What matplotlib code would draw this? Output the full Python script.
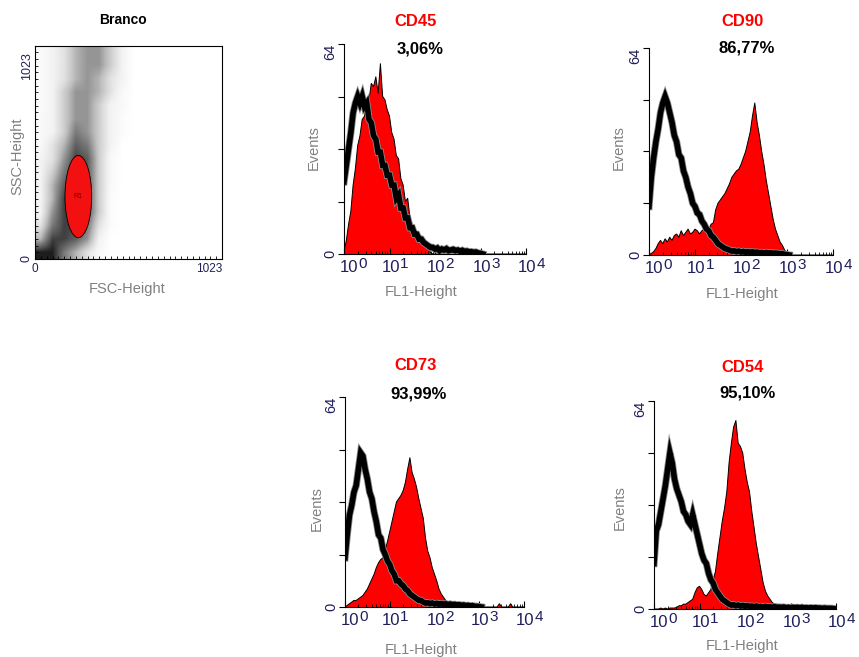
import numpy as np
import matplotlib.pyplot as plt
import matplotlib.patheffects as pe
from matplotlib.patches import Ellipse
from matplotlib.ticker import MultipleLocator, NullFormatter, LogLocator

W, H = 859, 657
plt.rcParams['font.family'] = ['Liberation Sans', 'DejaVu Sans']

TICK_COLOR = '#1f1f5c'
LABEL_GRAY = '#808080'

# FL1 channel positions (log10 of intensity), 10^0 .. 10^4
log_fl1 = np.linspace(0, 4, 81)

# black = isotype control, red = stained sample (events per channel)
cd45_control = [22, 27, 32, 37, 43, 46, 48, 46, 48, 45, 46, 41, 40, 36, 35, 31, 31, 27, 27, 24,
                24, 21, 21, 17, 18, 14, 14, 11, 11, 8, 8, 6, 6, 4.5, 4.5, 3.5, 3, 2.5, 2, 2,
                1.5, 1.8, 1, 1.5, 1.2, 1.6, 1, 1.2, 1.4, 1, 1.2, 0.8, 1.1, 0.7, 0.9, 0.6, 0.7, 0.5, 0.6, 0.3,
                0.2, 0, 0, 0, 0, 0, 0, 0, 0, 0, 0, 0, 0, 0, 0, 0, 0, 0, 0, 0, 0]
cd45_stained = [1, 4, 9, 13, 21, 26, 33, 36, 41, 42, 47, 47, 52, 51, 54, 49, 58, 48, 47, 44,
                42, 37, 35, 30, 29, 23, 21, 16, 17, 11, 9, 7, 6, 5, 4, 4, 3, 2, 0.5, 0,
                0, 0, 0, 0, 0, 0, 0, 0, 0, 0, 0, 0, 0, 0, 0, 0, 0, 0, 0, 0,
                0, 0, 0, 0, 0, 0, 0, 0, 0, 0, 0, 0, 0, 0, 0, 0, 0, 0, 0, 0, 0]

cd90_control = [15, 24, 30, 35, 39, 44, 47, 49, 47, 44, 41, 37, 35, 31, 30, 26, 24, 21, 19, 16,
                15, 13, 12.5, 10.5, 9.5, 8, 7.5, 6, 5.5, 4.5, 3.5, 3, 2.5, 2, 1.8, 1.5, 1.2, 1.3, 1, 1.2,
                0.9, 1.1, 0.8, 1, 0.8, 1, 0.7, 0.9, 0.7, 0.8, 0.6, 0.8, 0.6, 0.7, 0.5, 0.6, 0.5, 0.4, 0.4, 0.2,
                0.1, 0, 0, 0, 0, 0, 0, 0, 0, 0, 0, 0, 0, 0, 0, 0, 0, 0, 0, 0, 0]
cd90_stained = [0, 0.5, 1, 2, 3.5, 4.5, 3.5, 5, 4, 5.5, 4.5, 6, 6.5, 5.5, 7.5, 6, 7, 8, 6.5, 7,
                8, 7.5, 6.5, 7.5, 8, 8.5, 8, 9.5, 10, 14, 16, 17, 18, 19, 20.5, 22, 24, 25, 26, 26.5,
                28, 30, 32, 35, 38, 43, 47, 41, 37, 32, 28, 23, 19, 15, 11, 8, 6, 4, 3, 1.5,
                0.5, 0, 0, 0, 0, 0, 0, 0, 0, 0, 0, 0, 0, 0, 0, 0, 0, 0, 0, 0, 0]

cd73_control = [15, 22, 28, 31, 35, 37, 42, 47, 46, 42, 39, 35, 33, 29, 26, 22, 21, 17.5, 16, 14,
                13, 11, 10, 8, 8, 7, 6.5, 5.5, 5, 4, 3.5, 3, 2.5, 2, 2, 1.5, 1.2, 1.3, 1, 1.2,
                0.9, 1.1, 0.8, 1, 0.8, 1, 0.7, 0.9, 0.7, 0.8, 0.6, 0.7, 0.5, 0.6, 0.4, 0.5, 0.3, 0.4, 0.2, 0.2,
                0.1, 0, 0, 0, 0, 0, 0, 0, 0, 0, 0, 0, 0, 0, 0, 0, 0, 0, 0, 0, 0]
cd73_stained = [0, 0.5, 1, 1.5, 2, 2, 2.5, 3, 3.5, 4.5, 5.5, 7, 8.5, 10, 12, 13.5, 14.5, 15, 17.5, 20,
                23, 26, 29, 32, 33, 34, 35.5, 38, 42, 45.5, 41, 39, 36.5, 33, 30, 27, 21, 17, 15, 12,
                10, 8, 5.5, 4, 3, 2, 1.5, 1, 0.5, 0, 0, 0, 0, 0, 0, 0, 0, 0, 0, 0,
                0, 0, 0, 0, 0, 0, 0, 0, 0, 1, 0, 0, 0, 0, 1, 0, 0, 0, 0, 0, 0]

cd54_control = [14, 24, 26, 30, 34, 38, 43, 48, 45, 40, 37, 35, 33, 30, 29, 27, 26, 29, 26, 23,
                20, 17, 15, 14, 11, 9, 8, 6, 5, 4, 3, 2.5, 2, 1.5, 1.2, 1.3, 1, 1.2, 0.9, 1.1,
                0.8, 1, 0.8, 0.9, 0.7, 0.9, 0.7, 0.8, 0.6, 0.8, 0.6, 0.7, 0.5, 0.7, 0.5, 0.6, 0.5, 0.6, 0.4, 0.5,
                0.4, 0.5, 0.4, 0.5, 0.3, 0.5, 0.3, 0.4, 0.3, 0.4, 0.3, 0.4, 0.3, 0.3, 0.2, 0.3, 0.2, 0.2, 0.2, 0.1, 0]
cd54_stained = [0, 0, 0, 0.3, 0, 0.3, 0, 0.3, 0.3, 0.3, 0.5, 1, 1, 1.5, 1.5, 2, 2.5, 3, 5, 6.5,
                7, 6, 4.5, 4, 5, 6, 9, 11.5, 17, 22, 27, 31, 36, 45, 51, 56, 58, 51, 50, 48,
                43, 39, 36, 30, 25, 20, 16, 12, 8, 5.5, 4, 3, 2, 1.5, 1.5, 1, 0.5, 0.5, 0.5, 0.3,
                0.3, 0, 0, 0, 0, 0, 0, 0, 0, 0, 0, 0, 0, 0, 0, 0, 0, 0, 0, 0, 0]

# FSC/SSC dot plot, approximate dot density per 64x64 cell (rows: SSC low -> high)
fsc_ssc_density = [
    [9, 9, 6, 4, 2, 0.5, 0, 0, 0, 0, 0, 0, 0, 0, 0, 0],
    [4, 8, 8, 7, 5, 1, 0, 0, 0, 0, 0, 0, 0, 0, 0, 0],
    [2, 6, 8, 8, 6, 2, 0.3, 0, 0, 0, 0, 0, 0, 0, 0, 0],
    [1, 5, 8, 8, 7, 3, 0.3, 0, 0, 0, 0, 0, 0, 0, 0, 0],
    [1, 4, 8, 8, 7, 3, 0.3, 0, 0, 0, 0, 0, 0, 0, 0, 0],
    [1, 4, 7, 8, 7, 3, 0.5, 0, 0, 0, 0, 0, 0, 0, 0, 0],
    [1, 3, 6, 8, 7, 3, 0.5, 0, 0, 0, 0, 0, 0, 0, 0, 0],
    [1, 2, 5, 8, 7, 3, 0.5, 0, 0, 0, 0, 0, 0, 0, 0, 0],
    [0.5, 2, 4, 7, 6, 3, 1, 0, 0, 0, 0, 0, 0, 0, 0, 0],
    [0.5, 1, 3, 6, 5, 3, 1, 0.3, 0, 0, 0, 0, 0, 0, 0, 0],
    [0.5, 1, 3, 5, 5, 3, 1, 0.3, 0, 0, 0, 0, 0, 0, 0, 0],
    [0.3, 1, 3, 5, 5, 3, 1, 0.5, 0, 0, 0, 0, 0, 0, 0, 0],
    [0.3, 1, 3, 5, 5, 4, 2, 0.5, 0, 0, 0, 0, 0, 0, 0, 0],
    [0.3, 1, 2, 4, 5, 4, 2, 1, 0, 0, 0, 0, 0, 0, 0, 0],
    [0.3, 1, 2, 4, 5, 5, 3, 1, 0, 0, 0, 0, 0, 0, 0, 0],
    [0.3, 1, 2, 4, 5, 5, 3, 1, 0, 0, 0, 0, 0, 0, 0, 0],
]
gate_center = (237, 300)
gate_size = (146, 395)

fig = plt.figure(figsize=(W / 100, H / 100), dpi=100)


def box(x0, y0, x1, y1):
    return [x0 / W, 1 - y1 / H, (x1 - x0) / W, (y1 - y0) / H]


def ftext(x, y, s, **kw):
    kw.setdefault('ha', 'center')
    kw.setdefault('va', 'center')
    fig.text(x / W, 1 - y / H, s, **kw)


# ---- scatter (Branco)
ax = fig.add_axes(box(35, 46, 222, 259))
ax.imshow(fsc_ssc_density, extent=(0, 1023, 0, 1023), origin='lower', cmap='Greys',
          vmin=0, vmax=10, interpolation='bilinear', aspect='auto')
ax.add_patch(Ellipse(gate_center, gate_size[0], gate_size[1], facecolor='#f21010',
                     edgecolor='black', linewidth=0.6))
ax.text(gate_center[0], gate_center[1], 'R1', fontsize=5, color='#6a0000', ha='center', va='center')
ax.set_xlim(0, 1023)
ax.set_ylim(0, 1023)
ax.xaxis.set_minor_locator(MultipleLocator(32))
ax.yaxis.set_minor_locator(MultipleLocator(32))
ax.set_xticks([])
ax.set_yticks([])
ax.tick_params(which='minor', direction='in', length=2, width=0.6)
for s in ax.spines.values():
    s.set_linewidth(0.8)

ftext(123, 20, 'Branco', fontsize=10, fontweight='bold')
ftext(27.5, 66, '1023', fontsize=9, rotation=90, color=TICK_COLOR)
ftext(27, 258, '0', fontsize=9, rotation=90, color=TICK_COLOR)
ftext(35, 269, '0', fontsize=8.5, color=TICK_COLOR)
ftext(222, 269, '1023', fontsize=8.5, color=TICK_COLOR, ha='right')
ftext(17, 156, 'SSC-Height', fontsize=10.5, rotation=90, color=LABEL_GRAY)
ftext(127, 289, 'FSC-Height', fontsize=10.5, color=LABEL_GRAY)

# ---- histograms
panels = [
    ('CD45', '3,06%', (344, 44, 526, 254), cd45_control, cd45_stained, (416, 22), (420, 49), (314, 148), (421, 292)),
    ('CD90', '86,77%', (649, 48, 833, 255), cd90_control, cd90_stained, (743, 22), (747, 48), (619, 148), (742, 294)),
    ('CD73', '93,99%', (345, 397, 524, 607), cd73_control, cd73_stained, (416, 366), (419, 394), (317, 509), (421, 650)),
    ('CD54', '95,10%', (654, 401, 836, 609), cd54_control, cd54_stained, (743, 367), (747, 393), (620, 508), (742, 646)),
]

x_fl1 = 10 ** log_fl1
for name, pct, rect, control, stained, tpos, ppos, epos, fpos in panels:
    ax = fig.add_axes(box(*rect))
    ax.fill_between(x_fl1, stained, facecolor='#ff0000', linewidth=0)
    ax.plot(x_fl1, stained, color='black', linewidth=0.7)
    # control trace stops where the events run out
    n = len(np.trim_zeros(np.asarray(control, dtype=float), 'b')) + 1
    ax.plot(x_fl1[:n], control[:n], color='black', linewidth=4.0, solid_joinstyle='miter',
            path_effects=[pe.Stroke(linewidth=5.2, foreground='#8a8a8a'), pe.Normal()])
    ax.set_xscale('log')
    ax.set_xlim(1, 1e4)
    ax.set_ylim(0, 64)
    ax.spines['top'].set_visible(False)
    ax.spines['right'].set_visible(False)
    ax.set_yticks([0, 16, 32, 48, 64])
    ax.set_yticklabels([])
    ax.tick_params(axis='y', direction='out', length=4, width=0.8)
    ax.xaxis.set_major_locator(LogLocator(base=10, numticks=10))
    ax.xaxis.set_minor_locator(LogLocator(base=10, subs=np.arange(2, 10), numticks=10))
    ax.xaxis.set_major_formatter(NullFormatter())
    ax.xaxis.set_minor_formatter(NullFormatter())
    ax.tick_params(axis='x', which='major', direction='in', length=4, width=0.8)
    ax.tick_params(axis='x', which='minor', direction='in', length=2, width=0.6)

    for d in range(5):
        shift = -4 if d == 0 else -8
        base = ax.annotate('10', xy=(10 ** d, 0), xycoords=('data', 'axes fraction'),
                           xytext=(shift, -6), textcoords='offset pixels', ha='left', va='top',
                           fontsize=12, color=TICK_COLOR, annotation_clip=False)
        ax.annotate(str(d), xy=(1, 1), xycoords=base, xytext=(0, 3), textcoords='offset pixels',
                    ha='left', va='top', fontsize=11, color=TICK_COLOR, annotation_clip=False)

    x0, y0, x1, y1 = rect
    ftext(x0 - 14, y0, '64', fontsize=10.5, rotation=90, va='top', color=TICK_COLOR)
    ftext(x0 - 14, y1, '0', fontsize=10.5, rotation=90, color=TICK_COLOR)
    ftext(*tpos, name, fontsize=12, fontweight='bold', color='#ff0000')
    ftext(*ppos, pct, fontsize=12, fontweight='bold', color='black')
    ftext(*epos, 'Events', fontsize=10.5, rotation=90, color=LABEL_GRAY)
    ftext(*fpos, 'FL1-Height', fontsize=10.5, color=LABEL_GRAY)

fig.savefig('out.png', dpi=100)
